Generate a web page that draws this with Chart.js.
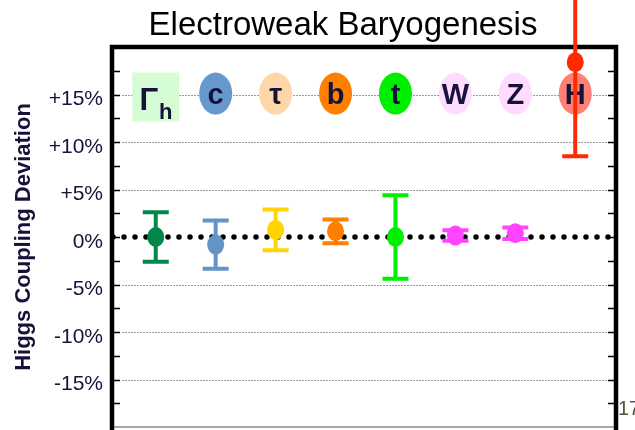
<!DOCTYPE html>
<html>
<head>
<meta charset="utf-8">
<script src="https://cdn.jsdelivr.net/npm/chart.js@4/dist/chart.umd.min.js"></script>
<style>
  html, body { margin: 0; padding: 0; background: #fff; overflow: hidden; }
  #wrap { position: relative; width: 635px; height: 430px; }
  #wrap canvas { display: block; }
  #slideNo { position: absolute; left: 618px; top: 397px; font: 20px "Liberation Sans", Arial, sans-serif; color: #56563c; }
</style>
</head>
<body>
<div id="wrap">
  <canvas id="chart"></canvas>
  <div id="slideNo">17</div>
</div>
<script>
// Higgs couplings and their projected deviations (percent)
const couplings      = ['Γh', 'c', 'τ', 'b', 't', 'W', 'Z', 'H'];
const centralValues  = [0, -0.8, 0.75, 0.6, 0, 0.15, 0.4, 18.4];
const uncertainties  = [2.6, 2.55, 2.15, 1.25, 4.4, 0.55, 0.6, 9.9];
const markerColors   = ['#00884a', '#6394c8', '#ffd400', '#ff7f00', '#00ee00', '#ff44ff', '#ff44ff', '#ff2a00'];
const badgeColors    = ['#d5fcd5', '#6598cc', '#ffd6a8', '#ff8000', '#00ee00', '#ffdbff', '#ffdbff', '#ff8075'];

// y-axis ticks that carry a label and a grid line
const tickValues = [15, 10, 5, 0, -5, -10, -15];
const tickLabels = ['+15%', '+10%', '+5%', '0%', '-5%', '-10%', '-15%'];

const FONT = '"Liberation Sans", Arial, Helvetica, sans-serif';
const INK = '#16133a';
const BADGE_ROW = 15.1;   // row of coupling badges, in axis units

function labelFor(v) {
  const k = tickValues.findIndex(t => Math.abs(t - v) < 1e-6);
  return k < 0 ? '' : tickLabels[k];
}

const decor = {
  id: 'decor',
  beforeDatasetsDraw(chart) {
    const { ctx, chartArea: a, scales: { x, y } } = chart;
    ctx.save();

    // dotted grey grid lines
    ctx.strokeStyle = '#999999';
    ctx.lineWidth = 1;
    ctx.setLineDash([2, 1]);
    tickValues.forEach(v => {
      if (v === 0) return;
      const py = Math.round(y.getPixelForValue(v)) + 0.5;
      ctx.beginPath();
      ctx.moveTo(a.left + 10, py);
      ctx.lineTo(a.right - 2, py);
      ctx.stroke();
    });

    // bottom edge
    ctx.setLineDash([]);
    ctx.strokeStyle = '#8a8a8a';
    ctx.lineWidth = 1.5;
    ctx.beginPath();
    ctx.moveTo(a.left, a.bottom);
    ctx.lineTo(a.right, a.bottom);
    ctx.stroke();

    // frame: thick left, right and top borders
    ctx.strokeStyle = '#000';
    ctx.lineWidth = 4.5;
    ctx.beginPath();
    ctx.moveTo(a.left, a.bottom + 5);
    ctx.lineTo(a.left, a.top);
    ctx.lineTo(a.right, a.top);
    ctx.lineTo(a.right, a.bottom + 5);
    ctx.stroke();

    // inner tick marks every 2.5%
    ctx.lineWidth = 1.5;
    y.ticks.forEach(t => {
      if (Math.abs(t.value) >= 20) return;
      const py = Math.round(y.getPixelForValue(t.value)) + 0.5;
      ctx.beginPath();
      ctx.moveTo(a.left, py); ctx.lineTo(a.left + 8, py);
      ctx.moveTo(a.right - 8, py); ctx.lineTo(a.right, py);
      ctx.stroke();
    });

    // zero line made of round dots
    const y0 = y.getPixelForValue(0);
    ctx.setLineDash([0, 11]);
    ctx.lineCap = 'round';
    ctx.lineWidth = 5.5;
    ctx.beginPath();
    ctx.moveTo(a.left + 1, y0);
    ctx.lineTo(a.right + 2, y0);
    ctx.stroke();
    ctx.setLineDash([]);
    ctx.lineCap = 'butt';

    // coupling badges
    const rowY = y.getPixelForValue(BADGE_ROW);
    couplings.forEach((name, i) => {
      const cx = x.getPixelForValue(i);
      ctx.fillStyle = badgeColors[i];
      ctx.textAlign = 'center';
      ctx.textBaseline = 'alphabetic';
      if (name === 'Γh') {
        ctx.fillRect(cx - 23.5, rowY - 21, 47, 49);
        ctx.fillStyle = INK;
        ctx.font = 'bold 31px ' + FONT;
        ctx.fillText('Γ', cx - 7, rowY + 16);
        ctx.font = 'bold 22px ' + FONT;
        ctx.fillText('h', cx + 10, rowY + 25);
      } else {
        ctx.beginPath();
        ctx.ellipse(cx, rowY, 16.5, 21, 0, 0, Math.PI * 2);
        ctx.fill();
        ctx.fillStyle = INK;
        ctx.font = 'bold 29px ' + FONT;
        ctx.fillText(name, cx, rowY + 10);
      }
    });
    ctx.restore();
  },
  afterDatasetsDraw(chart) {
    const { ctx, scales: { y } } = chart;
    const meta = chart.getDatasetMeta(0);
    ctx.save();
    meta.data.forEach((pt, i) => {
      const col = markerColors[i];
      const top = y.getPixelForValue(centralValues[i] + uncertainties[i]);
      const bot = y.getPixelForValue(centralValues[i] - uncertainties[i]);
      ctx.strokeStyle = col;
      ctx.lineWidth = 4;
      ctx.beginPath();
      ctx.moveTo(pt.x, top); ctx.lineTo(pt.x, bot);
      ctx.moveTo(pt.x - 13, top); ctx.lineTo(pt.x + 13, top);
      ctx.moveTo(pt.x - 13, bot); ctx.lineTo(pt.x + 13, bot);
      ctx.stroke();
      ctx.fillStyle = col;
      ctx.beginPath();
      ctx.ellipse(pt.x, pt.y, 8.5, 10, 0, 0, Math.PI * 2);
      ctx.fill();
    });
    ctx.restore();
  },
  afterDraw(chart) {
    const { ctx } = chart;
    ctx.save();
    ctx.fillStyle = '#000';
    ctx.font = '33px ' + FONT;
    ctx.textAlign = 'center';
    ctx.textBaseline = 'alphabetic';
    ctx.fillText('Electroweak Baryogenesis', 343, 35);
    ctx.restore();
  }
};

new Chart(document.getElementById('chart'), {
  type: 'scatter',
  data: {
    datasets: [{
      data: couplings.map((c, i) => ({ x: i, y: centralValues[i] })),
      pointRadius: 0,
      pointHoverRadius: 0,
      showLine: false
    }]
  },
  options: {
    responsive: true,
    maintainAspectRatio: false,
    devicePixelRatio: 1,
    animation: false,
    events: [],
    layout: { padding: { top: 47, right: 19, bottom: 3, left: 0 }, autoPadding: false },
    plugins: { legend: { display: false }, tooltip: { enabled: false }, title: { display: false } },
    scales: {
      x: { type: 'linear', min: -0.73, max: 7.68, display: false },
      y: {
        min: -20, max: 20,
        afterFit(scale) {
          scale.width = 112;
          scale.paddingTop = 0;
          scale.paddingBottom = 0;
          scale.paddingLeft = 0;
          scale.paddingRight = 0;
        },
        border: { display: false },
        grid: { display: false, drawTicks: false },
        ticks: {
          stepSize: 2.5,
          autoSkip: false,
          padding: 9,
          labelOffset: 5,
          color: INK,
          font: { family: FONT, size: 21 },
          callback: v => labelFor(v)
        },
        title: {
          display: true,
          text: 'Higgs Coupling Deviation',
          color: INK,
          font: { family: FONT, size: 22, weight: 'bold' },
          padding: { top: 11, bottom: 0 }
        }
      }
    }
  },
  plugins: [decor]
});
</script>
</body>
</html>
